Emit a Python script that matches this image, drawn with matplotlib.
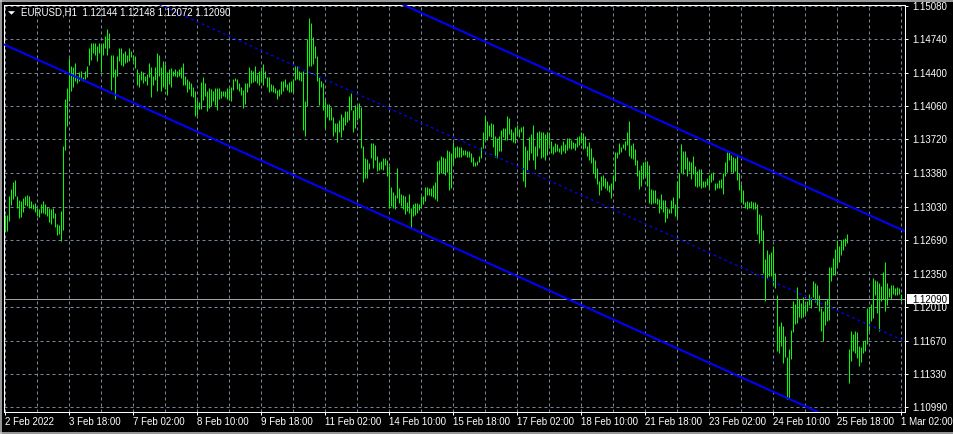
import numpy as np
import matplotlib.pyplot as plt
from matplotlib.patches import Polygon, Rectangle
from matplotlib.lines import Line2D

plt.rcParams['font.family'] = ['Liberation Sans', 'DejaVu Sans']

symbol = "EURUSD,H1"
last_ohlc = ["1.12144", "1.12148", "1.12072", "1.12090"]
bid = 1.12090

# H1 bars, 2 Feb 2022 10:00 .. 1 Mar 2022 02:00 (trading hours only)
highs = [
    1.1295, 1.1295, 1.1314, 1.1321, 1.1329, 1.1331, 1.1314, 1.1310, 1.1309, 1.1312,
    1.1314, 1.1315, 1.1314, 1.1309, 1.1306, 1.1307, 1.1302, 1.1301, 1.1306, 1.1309,
    1.1306, 1.1303, 1.1302, 1.1301, 1.1302, 1.1297, 1.1286, 1.1285, 1.1299, 1.1365,
    1.1413, 1.1424, 1.1455, 1.1447, 1.1446, 1.1450, 1.1437, 1.1441, 1.1442, 1.1436,
    1.1442, 1.1447, 1.1465, 1.1470, 1.1470, 1.1470, 1.1467, 1.1470, 1.1468, 1.1470,
    1.1477, 1.1484, 1.1480, 1.1458, 1.1458, 1.1444, 1.1457, 1.1465, 1.1465, 1.1460,
    1.1462, 1.1458, 1.1465, 1.1462, 1.1458, 1.1457, 1.1444, 1.1439, 1.1442, 1.1441,
    1.1437, 1.1439, 1.1450, 1.1446, 1.1437, 1.1446, 1.1460, 1.1458, 1.1446, 1.1452,
    1.1449, 1.1441, 1.1444, 1.1445, 1.1442, 1.1444, 1.1442, 1.1444, 1.1446, 1.1450,
    1.1437, 1.1433, 1.1431, 1.1429, 1.1425, 1.1421, 1.1412, 1.1410, 1.1430, 1.1435,
    1.1429, 1.1421, 1.1424, 1.1423, 1.1421, 1.1424, 1.1424, 1.1424, 1.1421, 1.1421,
    1.1421, 1.1424, 1.1424, 1.1425, 1.1433, 1.1434, 1.1433, 1.1429, 1.1425, 1.1422,
    1.1429, 1.1429, 1.1446, 1.1443, 1.1442, 1.1447, 1.1439, 1.1442, 1.1443, 1.1449,
    1.1442, 1.1436, 1.1435, 1.1428, 1.1427, 1.1424, 1.1422, 1.1423, 1.1431, 1.1431,
    1.1433, 1.1428, 1.1430, 1.1431, 1.1433, 1.1447, 1.1447, 1.1442, 1.1441, 1.1442,
    1.1411, 1.1474, 1.1496, 1.1490, 1.1476, 1.1467, 1.1457, 1.1436, 1.1431, 1.1429,
    1.1413, 1.1408, 1.1408, 1.1405, 1.1395, 1.1389, 1.1389, 1.1392, 1.1398, 1.1395,
    1.1401, 1.1401, 1.1416, 1.1419, 1.1402, 1.1407, 1.1406, 1.1409, 1.1405, 1.1365,
    1.1353, 1.1352, 1.1348, 1.1368, 1.1368, 1.1366, 1.1355, 1.1349, 1.1350, 1.1353,
    1.1353, 1.1351, 1.1345, 1.1323, 1.1318, 1.1315, 1.1343, 1.1322, 1.1316, 1.1315,
    1.1314, 1.1308, 1.1316, 1.1302, 1.1306, 1.1307, 1.1307, 1.1306, 1.1314, 1.1314,
    1.1323, 1.1323, 1.1322, 1.1322, 1.1326, 1.1329, 1.1350, 1.1351, 1.1355, 1.1354,
    1.1353, 1.1361, 1.1360, 1.1358, 1.1369, 1.1364, 1.1365, 1.1364, 1.1364, 1.1361,
    1.1361, 1.1360, 1.1360, 1.1358, 1.1354, 1.1349, 1.1350, 1.1355, 1.1364, 1.1380,
    1.1396, 1.1391, 1.1387, 1.1389, 1.1388, 1.1375, 1.1373, 1.1375, 1.1382, 1.1384,
    1.1384, 1.1396, 1.1394, 1.1383, 1.1379, 1.1385, 1.1387, 1.1383, 1.1385, 1.1386,
    1.1365, 1.1361, 1.1374, 1.1377, 1.1387, 1.1365, 1.1379, 1.1381, 1.1380, 1.1380,
    1.1377, 1.1379, 1.1380, 1.1370, 1.1365, 1.1368, 1.1367, 1.1363, 1.1366, 1.1370,
    1.1367, 1.1373, 1.1373, 1.1371, 1.1369, 1.1368, 1.1374, 1.1375, 1.1380, 1.1378,
    1.1375, 1.1365, 1.1369, 1.1363, 1.1354, 1.1351, 1.1343, 1.1330, 1.1335, 1.1336,
    1.1333, 1.1330, 1.1326, 1.1328, 1.1336, 1.1359, 1.1359, 1.1368, 1.1364, 1.1367,
    1.1370, 1.1380, 1.1391, 1.1366, 1.1368, 1.1362, 1.1351, 1.1341, 1.1346, 1.1349,
    1.1350, 1.1350, 1.1346, 1.1321, 1.1320, 1.1320, 1.1312, 1.1311, 1.1316, 1.1310,
    1.1310, 1.1302, 1.1301, 1.1310, 1.1313, 1.1306, 1.1330, 1.1338, 1.1367, 1.1360,
    1.1360, 1.1354, 1.1350, 1.1349, 1.1355, 1.1345, 1.1340, 1.1342, 1.1342, 1.1330,
    1.1330, 1.1333, 1.1336, 1.1338, 1.1339, 1.1328, 1.1328, 1.1331, 1.1332, 1.1338,
    1.1349, 1.1359, 1.1360, 1.1356, 1.1354, 1.1353, 1.1356, 1.1338, 1.1327, 1.1320,
    1.1308, 1.1309, 1.1308, 1.1309, 1.1308, 1.1308, 1.1306, 1.1296, 1.1295, 1.1280,
    1.1250, 1.1259, 1.1255, 1.1257, 1.1263, 1.1236, 1.1213, 1.1182, 1.1186, 1.1182,
    1.1172, 1.1150, 1.1158, 1.1178, 1.1207, 1.1204, 1.1222, 1.1209, 1.1205, 1.1211,
    1.1204, 1.1207, 1.1215, 1.1211, 1.1228, 1.1226, 1.1224, 1.1214, 1.1200, 1.1197,
    1.1207, 1.1209, 1.1242, 1.1242, 1.1251, 1.1260, 1.1270, 1.1263, 1.1270, 1.1271,
    1.1272, 1.1276, 1.1159, 1.1177, 1.1174, 1.1177, 1.1176, 1.1162, 1.1161, 1.1167,
    1.1168, 1.1200, 1.1201, 1.1204, 1.1231, 1.1229, 1.1228, 1.1226, 1.1223, 1.1237,
    1.1247, 1.1226, 1.1221, 1.1224, 1.1224, 1.1221, 1.1222, 1.1221, 1.12148,
]
lows = [
    1.1279, 1.1279, 1.1289, 1.1305, 1.1311, 1.1314, 1.1302, 1.1292, 1.1293, 1.1298,
    1.1305, 1.1304, 1.1302, 1.1302, 1.1301, 1.1298, 1.1294, 1.1293, 1.1297, 1.1297,
    1.1296, 1.1294, 1.1288, 1.1286, 1.1292, 1.1283, 1.1275, 1.1276, 1.1268, 1.1280,
    1.1361, 1.1386, 1.1411, 1.1421, 1.1425, 1.1431, 1.1429, 1.1431, 1.1432, 1.1431,
    1.1433, 1.1436, 1.1448, 1.1453, 1.1460, 1.1458, 1.1452, 1.1460, 1.1441, 1.1458,
    1.1465, 1.1458, 1.1465, 1.1422, 1.1436, 1.1413, 1.1437, 1.1452, 1.1448, 1.1447,
    1.1450, 1.1451, 1.1452, 1.1456, 1.1452, 1.1445, 1.1427, 1.1425, 1.1432, 1.1429,
    1.1431, 1.1427, 1.1436, 1.1415, 1.1427, 1.1432, 1.1421, 1.1437, 1.1421, 1.1425,
    1.1423, 1.1417, 1.1428, 1.1425, 1.1437, 1.1437, 1.1436, 1.1437, 1.1434, 1.1427,
    1.1427, 1.1420, 1.1423, 1.1416, 1.1415, 1.1396, 1.1397, 1.1403, 1.1403, 1.1412,
    1.1416, 1.1401, 1.1404, 1.1406, 1.1411, 1.1407, 1.1402, 1.1413, 1.1414, 1.1416,
    1.1415, 1.1413, 1.1412, 1.1411, 1.1422, 1.1431, 1.1423, 1.1421, 1.1417, 1.1404,
    1.1408, 1.1420, 1.1425, 1.1429, 1.1430, 1.1431, 1.1429, 1.1427, 1.1430, 1.1427,
    1.1434, 1.1425, 1.1420, 1.1421, 1.1420, 1.1419, 1.1413, 1.1416, 1.1418, 1.1421,
    1.1425, 1.1422, 1.1420, 1.1420, 1.1420, 1.1432, 1.1433, 1.1432, 1.1431, 1.1382,
    1.1375, 1.1406, 1.1447, 1.1447, 1.1449, 1.1455, 1.1431, 1.1407, 1.1425, 1.1402,
    1.1384, 1.1395, 1.1392, 1.1392, 1.1375, 1.1379, 1.1369, 1.1379, 1.1374, 1.1382,
    1.1387, 1.1390, 1.1392, 1.1402, 1.1380, 1.1384, 1.1392, 1.1394, 1.1363, 1.1329,
    1.1333, 1.1333, 1.1342, 1.1353, 1.1343, 1.1351, 1.1340, 1.1341, 1.1342, 1.1341,
    1.1346, 1.1335, 1.1302, 1.1304, 1.1302, 1.1301, 1.1312, 1.1307, 1.1304, 1.1301,
    1.1296, 1.1299, 1.1297, 1.1282, 1.1294, 1.1295, 1.1297, 1.1300, 1.1302, 1.1306,
    1.1309, 1.1315, 1.1315, 1.1314, 1.1313, 1.1311, 1.1309, 1.1337, 1.1338, 1.1338,
    1.1336, 1.1339, 1.1320, 1.1322, 1.1347, 1.1353, 1.1354, 1.1354, 1.1354, 1.1356,
    1.1356, 1.1354, 1.1354, 1.1349, 1.1345, 1.1345, 1.1346, 1.1349, 1.1353, 1.1363,
    1.1371, 1.1371, 1.1375, 1.1374, 1.1364, 1.1354, 1.1353, 1.1360, 1.1360, 1.1374,
    1.1371, 1.1371, 1.1377, 1.1371, 1.1369, 1.1368, 1.1377, 1.1374, 1.1379, 1.1330,
    1.1323, 1.1341, 1.1351, 1.1358, 1.1351, 1.1342, 1.1355, 1.1363, 1.1353, 1.1354,
    1.1351, 1.1356, 1.1366, 1.1358, 1.1357, 1.1359, 1.1360, 1.1359, 1.1357, 1.1360,
    1.1358, 1.1361, 1.1363, 1.1362, 1.1363, 1.1361, 1.1364, 1.1366, 1.1368, 1.1362,
    1.1363, 1.1355, 1.1351, 1.1348, 1.1338, 1.1333, 1.1327, 1.1315, 1.1320, 1.1325,
    1.1322, 1.1320, 1.1318, 1.1312, 1.1322, 1.1330, 1.1353, 1.1357, 1.1359, 1.1363,
    1.1361, 1.1366, 1.1355, 1.1353, 1.1352, 1.1346, 1.1335, 1.1321, 1.1324, 1.1332,
    1.1335, 1.1325, 1.1307, 1.1306, 1.1307, 1.1307, 1.1306, 1.1297, 1.1301, 1.1298,
    1.1288, 1.1292, 1.1297, 1.1297, 1.1302, 1.1294, 1.1292, 1.1312, 1.1338, 1.1337,
    1.1342, 1.1335, 1.1340, 1.1332, 1.1337, 1.1325, 1.1323, 1.1325, 1.1322, 1.1323,
    1.1323, 1.1326, 1.1322, 1.1329, 1.1331, 1.1320, 1.1322, 1.1322, 1.1322, 1.1316,
    1.1335, 1.1339, 1.1351, 1.1339, 1.1338, 1.1340, 1.1331, 1.1320, 1.1308, 1.1306,
    1.1302, 1.1301, 1.1302, 1.1302, 1.1301, 1.1301, 1.1276, 1.1266, 1.1270, 1.1236,
    1.1207, 1.1231, 1.1233, 1.1233, 1.1224, 1.1221, 1.1156, 1.1154, 1.1162, 1.1144,
    1.1150, 1.1108, 1.1108, 1.1148, 1.1176, 1.1184, 1.1185, 1.1191, 1.1190, 1.1191,
    1.1194, 1.1197, 1.1203, 1.1200, 1.1211, 1.1206, 1.1203, 1.1197, 1.1177, 1.1167,
    1.1183, 1.1187, 1.1188, 1.1228, 1.1234, 1.1234, 1.1242, 1.1247, 1.1254, 1.1259,
    1.1263, 1.1266, 1.1124, 1.1146, 1.1156, 1.1154, 1.1149, 1.1141, 1.1145, 1.1154,
    1.1156, 1.1164, 1.1177, 1.1187, 1.1190, 1.1213, 1.1195, 1.1177, 1.1207, 1.1209,
    1.1197, 1.1203, 1.1211, 1.1209, 1.1215, 1.1213, 1.1214, 1.1215, 1.12072,
]

time_labels = ["2 Feb 2022", "3 Feb 18:00", "7 Feb 02:00", "8 Feb 10:00", "9 Feb 18:00",
               "11 Feb 02:00", "14 Feb 10:00", "15 Feb 18:00", "17 Feb 02:00", "18 Feb 10:00",
               "21 Feb 18:00", "23 Feb 02:00", "24 Feb 10:00", "25 Feb 18:00", "1 Mar 02:00"]
time_label_step = 32   # bars between time labels
grid_step = 16         # bars between vertical grid lines
price_labels = ["1.10990", "1.11330", "1.11670", "1.12010", "1.12350", "1.12690", "1.13030",
                "1.13380", "1.13720", "1.14060", "1.14400", "1.14740", "1.15080"]

# linear regression channel: middle line through two (bar, price) points
chan_bars = [0, 448]
chan_mid = [1.1580, 1.1168]
chan_half = 0.0112

W, H = 954, 434
PX = 0.72  # one pixel in points
n = min(len(highs), len(lows))
bars = np.arange(n)

fig = plt.figure(figsize=(W / 100, H / 100), dpi=100, facecolor="black")
ax = fig.add_axes([4.5 / W, 22.5 / H, 901 / W, 407 / H])
ax.set_facecolor("black")
ax.set_xlim(-0.5, 450)
ax.set_ylim(1.109485, 1.150934)

grid_kw = dict(color="#778899", lw=PX, dashes=(3, 3), zorder=1)
for p in price_labels:
    ax.axhline(float(p), **grid_kw)
for b in range(0, n, grid_step):
    ax.axvline(b, **grid_kw)

ax.axhline(bid, color="#a0a0a0", lw=PX, zorder=2)

ax.vlines(bars, lows[:n], highs[:n], colors="#00ff00", lw=PX, zorder=3)

for off, solid in [(chan_half, True), (0.0, False), (-chan_half, True)]:
    p0 = (chan_bars[0], chan_mid[0] + off)
    p1 = (chan_bars[1], chan_mid[1] + off)
    if solid:
        ax.axline(p0, p1, color="#0000ff", lw=2 * PX, zorder=4)
    else:
        ax.axline(p0, p1, color="#0000ff", lw=1.3 * PX, dashes=(2, 2.5), zorder=4)

for s in ax.spines.values():
    s.set_color("white")
    s.set_linewidth(PX)

ax.yaxis.tick_right()
ax.set_yticks([float(p) for p in price_labels], price_labels)
ax.tick_params(axis="y", colors="white", length=3 * PX, width=PX, pad=2.5, labelsize=7)
ax.set_xticks(list(range(0, n, time_label_step)), time_labels)
ax.tick_params(axis="x", colors="white", length=3 * PX, width=PX, pad=1.5, labelsize=7)
for t in ax.get_xticklabels():
    t.set_ha("left")

# bid price marker on the price scale
ytr = ax.get_yaxis_transform()
box_h = 10 * (ax.get_ylim()[1] - ax.get_ylim()[0]) / 407
ax.add_patch(Rectangle((1 + 1.5 / 901, bid - box_h / 2), 42 / 901, box_h, transform=ytr,
                       fc="white", ec="none", zorder=10, clip_on=False))
ax.text(1 + 6.5 / 901, bid, "%.5f" % bid, transform=ytr, color="black", fontsize=7,
        va="center_baseline", ha="left", zorder=11, clip_on=False)

# header
fig.text(20.7 / W, 1 - 12.7 / H, symbol + "  " + " ".join(last_ohlc), color="white",
         fontsize=7, va="center", ha="left")
tri = [(8 / W, 1 - 11.2 / H), (15 / W, 1 - 11.2 / H), (11.5 / W, 1 - 14.7 / H)]
fig.add_artist(Polygon(tri, closed=True, transform=fig.transFigure, fc="white", ec="none"))

# window frame
frame_kw = dict(transform=fig.transFigure, color="#c8c8c8", lw=1.5 * PX)
fig.add_artist(Line2D([0, 1], [1 - 0.5 / H, 1 - 0.5 / H], **frame_kw))
fig.add_artist(Line2D([0.7 / W, 0.7 / W], [0, 1], **frame_kw))
fig.add_artist(Line2D([0, 1], [1.5 / H, 1.5 / H], **frame_kw))

fig.savefig("out.png", dpi=100, facecolor="black")
